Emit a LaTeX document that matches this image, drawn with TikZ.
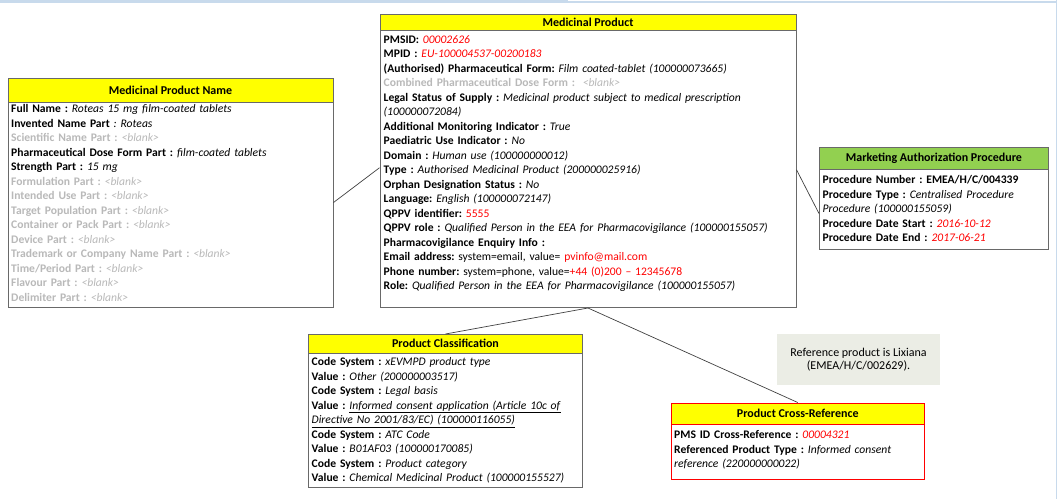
\documentclass[tikz,border=0pt]{standalone}
\usepackage{fontspec}
\setmainfont{Carlito}
\frenchspacing
\definecolor{hdryellow}{RGB}{255,255,0}
\definecolor{hdrgreen}{RGB}{146,208,80}
\definecolor{boxline}{RGB}{105,105,105}
\definecolor{greytxt}{RGB}{185,185,185}
\definecolor{redtxt}{RGB}{255,0,0}
\definecolor{notefill}{RGB}{235,237,229}
\definecolor{conn}{RGB}{64,64,64}
\definecolor{topband}{RGB}{200,218,236}
\newcommand{\lb}[1]{\textbf{#1}}
\newcommand{\vl}[1]{\textit{#1}}
\newcommand{\rv}[1]{\textcolor{redtxt}{\textit{#1}}}
\newcommand{\gr}[1]{\textcolor{greytxt}{#1}}
\begin{document}
\begin{tikzpicture}[x=1pt,y=-1pt,
  boxshape/.style={draw=boxline,line width=1pt,fill=white,inner sep=0pt,anchor=north west},
  hdr/.style={draw=boxline,line width=1pt,inner sep=0pt,anchor=north west,font=\fontsize{12}{14}\selectfont\bfseries},
  body/.style={inner sep=0pt,anchor=north west,text width=#1,align=left,font=\fontsize{11.6}{14.5}\selectfont\frenchspacing},
  body/.default=440pt,
  connector/.style={draw=conn,line width=0.7pt}
]
\useasboundingbox (0,0) rectangle (1057,499);
\fill[topband] (0,0) rectangle (568,3);
\fill[topband] (568,1) rectangle (1057,3);
\draw[topband,line width=1pt] (1056,0) -- (1056,499);

% Medicinal Product
\node[boxshape,minimum width=416pt,minimum height=293.5pt] (mp) at (379.5,13.5) {};
\node[hdr,fill=hdryellow,minimum width=416pt,minimum height=16pt] (mph) at (379.5,13.5) {Medicinal Product};
\node[body] (mpb) at (383.5,33) {\strut\lb{PMSID:} \rv{00002626}\\
\lb{MPID :} \rv{EU-100004537-00200183}\\
\lb{(Authorised) Pharmaceutical Form:} \vl{Film coated-tablet (100000073665)}\\
\gr{\lb{Combined Pharmaceutical Dose Form :}\ \ \vl{<blank>}}\\
\lb{Legal Status of Supply :} \vl{Medicinal product subject to medical prescription}\\
\vl{(100000072084)}\\
\lb{Additional Monitoring Indicator :} \vl{True}\\
\lb{Paediatric Use Indicator :} \vl{No}\\
\lb{Domain :} \vl{Human use (100000000012)}\\
\lb{Type :} \vl{Authorised Medicinal Product (200000025916)}\\
\lb{Orphan Designation Status :} \vl{No}\\
\lb{Language:} \vl{English (100000072147)}\\
\lb{QPPV identifier:} \textcolor{redtxt}{5555}\\
\lb{QPPV role :} \vl{Qualified Person in the EEA for Pharmacovigilance (100000155057)}\\
\lb{Pharmacovigilance Enquiry Info :}\\
\lb{Email address:} system=email, value= \textcolor{redtxt}{pvinfo@mail.com}\\
\lb{Phone number:} system=phone, value=\textcolor{redtxt}{+44 (0)200 – 12345678}\\
\lb{Role:} \vl{Qualified Person in the EEA for Pharmacovigilance (100000155057)}};

% Medicinal Product Name
\node[boxshape,minimum width=325pt,minimum height=229pt] (nm) at (7.5,77.5) {};
\node[hdr,fill=hdryellow,minimum width=325pt,minimum height=24pt] (nmh) at (7.5,77.5) {Medicinal Product Name};
\node[body=320pt] (nmb) at (11,102.5) {\strut\lb{Full Name :} \vl{Roteas 15 mg film-coated tablets}\\
\lb{Invented Name Part} \vl{: Roteas}\\
\gr{\lb{Scientific Name Part :} \vl{<blank>}}\\
\lb{Pharmaceutical Dose Form Part :} \vl{film-coated tablets}\\
\lb{Strength Part :} \vl{15 mg}\\
\gr{\lb{Formulation Part :} \vl{<blank>}}\\
\gr{\lb{Intended Use Part :} \vl{<blank>}}\\
\gr{\lb{Target Population Part :} \vl{<blank>}}\\
\gr{\lb{Container or Pack Part :} \vl{<blank>}}\\
\gr{\lb{Device Part :} \vl{<blank>}}\\
\gr{\lb{Trademark or Company Name Part :} \vl{<blank>}}\\
\gr{\lb{Time/Period Part :} \vl{<blank>}}\\
\gr{\lb{Flavour Part :} \vl{<blank>}}\\
\gr{\lb{Delimiter Part :} \vl{<blank>}}};

% Marketing Authorization Procedure
\node[boxshape,minimum width=229pt,minimum height=102pt] (map) at (819,147) {};
\node[hdr,fill=hdrgreen,minimum width=229pt,minimum height=22pt] (maph) at (819,147) {Marketing Authorization Procedure};
\node[body=225pt] (mapb) at (822.5,173.5) {\strut\lb{Procedure Number : EMEA/H/C/004339}\\
\lb{Procedure Type :} \vl{Centralised Procedure}\\
\vl{Procedure (100000155059)}\\
\lb{Procedure Date Start :} \rv{2016-10-12}\\
\lb{Procedure Date End :} \rv{2017-06-21}};

% Product Classification
\node[boxshape,minimum width=274pt,minimum height=153pt] (pc) at (308,334) {};
\node[hdr,fill=hdryellow,minimum width=274pt,minimum height=18.5pt] (pch) at (308,334) {Product Classification};
\node[body=270pt] (pcb) at (311.5,355.5) {\strut\lb{Code System :} \vl{xEVMPD product type}\\
\lb{Value :} \vl{Other (200000003517)}\\
\lb{Code System :} \vl{Legal basis}\\
\lb{Value :} \underline{\vl{Informed consent application (Article 10c of}}\\
\underline{\vl{Directive No 2001/83/EC) (100000116055)}}\\
\lb{Code System :} \vl{ATC Code}\\
\lb{Value :} \vl{B01AF03 (100000170085)}\\
\lb{Code System :} \vl{Product category}\\
\lb{Value :} \vl{Chemical Medicinal Product (100000155527)}};

% Product Cross-Reference
\node[boxshape,draw=redtxt,minimum width=253.5pt,minimum height=76.5pt] (xr) at (670.5,402.5) {};
\node[hdr,draw=redtxt,fill=hdryellow,minimum width=253.5pt,minimum height=21pt] (xrh) at (670.5,402.5) {Product Cross-Reference};
\node[body=248pt] (xrb) at (674,428.3) {\strut\lb{PMS ID Cross-Reference :} \rv{00004321}\\
\lb{Referenced Product Type :} \vl{Informed consent}\\
\vl{reference (220000000022)}};

% Note
\node[fill=notefill,inner sep=0pt,minimum width=163pt,minimum height=51pt,align=center,font=\fontsize{12}{13}\selectfont] (note) at (858.5,359.5) {Reference product is Lixiana\\(EMEA/H/C/002629).};

% Connectors
\draw[connector] ([yshift=-10pt]nm.east) -- ([yshift=-7pt]mp.west);
\draw[connector] ([yshift=-9pt]mp.east) -- ([yshift=-15pt]map.west);
\draw[connector] (mp.south) -- (pc.north);
\draw[connector] (mp.south) -- (xr.north);
\end{tikzpicture}
\end{document}
